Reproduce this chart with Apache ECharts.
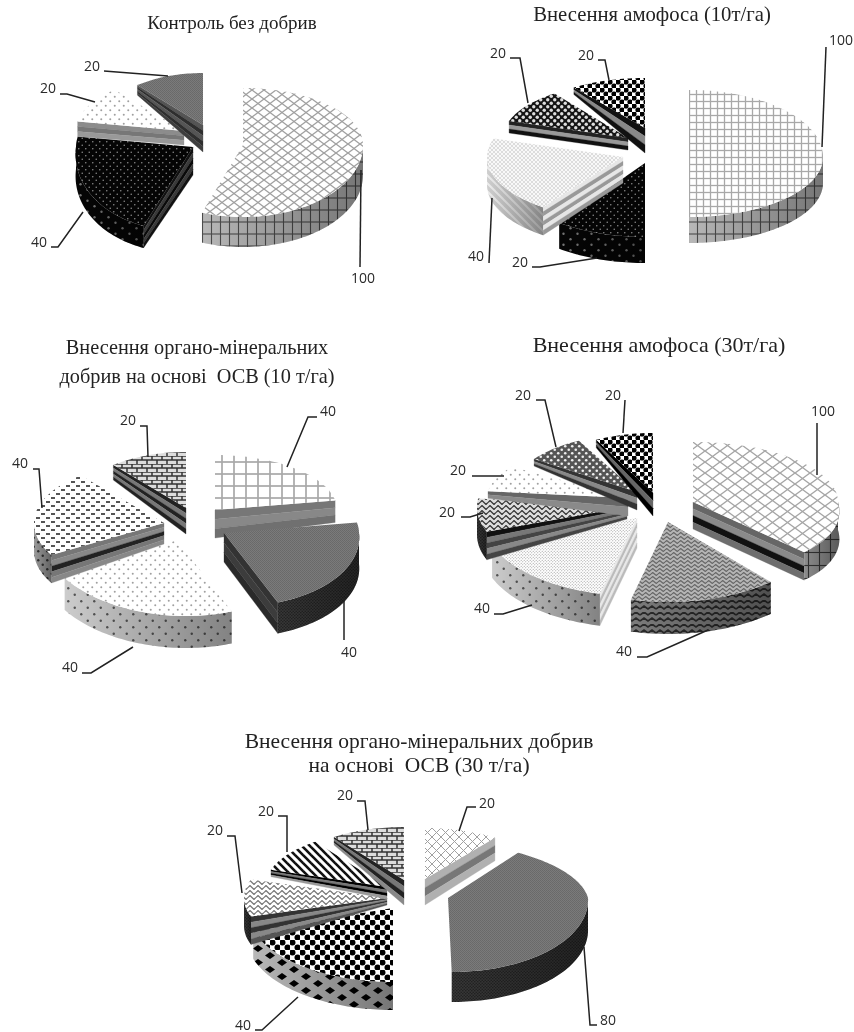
<!DOCTYPE html>
<html><head><meta charset="utf-8">
<style>html,body{margin:0;padding:0;background:#fff}#c{width:854px;height:1032px;filter:blur(0.4px)}</style>
<script src="https://cdn.jsdelivr.net/npm/echarts@6/dist/echarts.min.js"></script>
</head><body><div id="c"></div>
<script>
// ---- values
const controlValues   = [100, 40, 20, 20];
const ammo10Values    = [100, 20, 40, 20, 20];
const organo10Values  = [40, 40, 40, 40, 20];
const ammo30Values    = [100, 40, 40, 20, 20, 20, 20];
const organo30Values  = [20, 80, 40, 20, 20, 20];
const panelValues = [controlValues, ammo10Values, organo10Values, ammo30Values, organo30Values];
const panelTitles = [
  'Контроль без добрив',
  'Внесення амофоса (10т/га)',
  'Внесення органо-мінеральних\nдобрив на основі  ОСВ (10 т/га)',
  'Внесення амофоса (30т/га)',
  'Внесення органо-мінеральних добрив\nна основі  ОСВ (30 т/га)'
];

// ---- layout (no data): pie centre, explode offset per slice, ellipse and thickness per slice
const titleLayout = [[227,9,19,20],[647,1,20.7,20],[192,329.5,20.3,29],[654,329,22,24],[414,725,21.5,24]];
const centers = [[215,140],[650,145],[195,515],[650,505],[410,890]];
const explode = [
  [[28,5],[-22,7],[-31,-9],[-12,-15]],
  [[39,12],[-5,18],[-27,12],[-22,-7],[-5,-17]],
  [[20,-5],[29,18],[-18,25],[-31,8],[-9,-7]],
  [[43,-3],[18,17],[-13,13],[-23,2],[-22,-7],[-13,-13],[3,-12]],
  [[15,-11],[38,8],[-17,18],[-23,8],[-23,-3],[-6,-10]]
];
// [rx, ryBack, ryFront, depthAtApex, depthAtRim, skewFront, skewBack]
const ellipse = [
  [[120,57,72,28,30],[117,60,84,28,22,-0.12],[108,54,54,14,15],[102,52,52,27,10]],
  [[134,67,60,26,26],[146,70,74,26,26],[136,60,62,26,28],[125,55,55,12,12],[121,50,50,25,7]],
  [[122,55,55,28,22],[135,60,74,29,31,0.11],[135,70,76,30,32,0.12],[130,62,64,21,28],[113,56,56,26,15]],
  [[145,60,67,27,28,0.3],[155,70,80,30,32],[155,70,78,30,32],[150,70,70,12,28],[141,55,55,18,7],[125,58,58,18,7],[122,60,60,23,8]],
  [[119,51,51,26,23],[140,56,74,30,30,0.05,0.27],[147,65,74,31,28],[143,60,60,7,28],[122,56,56,12,7],[119,53,53,25,8]]
];
// label centre, then leader line
const labelLayout = [
  [[[363,279],[[360,267],[361,170]]],[[39,243],[[51,247],[58,247],[83,212]]],[[48,89],[[60,94],[67,94],[95,102]]],[[92,67],[[104,71],[168,76]]]],
  [[[841,41],[[826,47],[822,147]]],[[520,263],[[532,267],[540,267],[597,258]]],[[476,257],[[489,263],[492,198]]],[[498,54],[[510,58],[520,58],[528,103]]],[[586,56],[[598,60],[605,60],[609,80]]]],
  [[[328,412],[[317,417],[308,417],[287,467]]],[[349,653],[[344,640],[344,597]]],[[70,668],[[82,673],[91,673],[133,647]]],[[20,464],[[33,469],[39,469],[42,508]]],[[128,421],[[140,426],[147,426],[148,457]]]],
  [[[823,412],[[817,423],[817,475]]],[[624,652],[[637,657],[647,657],[708,630]]],[[482,609],[[494,614],[503,614],[532,605]]],[[447,513],[[461,517],[470,517],[483,513]]],[[458,471],[[472,476],[504,476]]],[[523,396],[[536,400],[545,400],[556,447]]],[[613,396],[[625,400],[623,433]]]],
  [[[487,804],[[476,807],[467,807],[459,831]]],[[608,1021],[[597,1025],[590,1025],[584,947]]],[[243,1026],[[255,1030],[262,1030],[298,997]]],[[215,831],[[227,836],[235,836],[242,893]]],[[266,812],[[278,816],[287,816],[287,852]]],[[345,796],[[357,801],[365,801],[368,830]]]]
];

// ---- pattern tiles
function tile(w,h,bg,draw){
  const c=document.createElement('canvas');c.width=w;c.height=h;
  const g=c.getContext('2d');g.fillStyle=bg;g.fillRect(0,0,w,h);draw(g,w,h);
  return {image:c,repeat:'repeat'};
}
function dots(g,pts,r,col){g.fillStyle=col;pts.forEach(p=>{g.beginPath();g.arc(p[0],p[1],r,0,7);g.fill();});}
function lines(g,segs,lw,col){g.strokeStyle=col;g.lineWidth=lw;segs.forEach(s=>{g.beginPath();g.moveTo(s[0],s[1]);for(let i=2;i<s.length;i+=2)g.lineTo(s[i],s[i+1]);g.stroke();});}
const grid=(w,h,bg,col,lw)=>tile(w,h,bg,g=>lines(g,[[0,h/4,w,h/4],[0,3*h/4,w,3*h/4],[w/2,0,w/2,h]],lw,col));
const grid2=(w,h,bg,col,lw)=>tile(w,h,bg,g=>lines(g,[[0,h/2,w,h/2],[w/2,0,w/2,h]],lw,col));
const lattice=(w,h,bg,col,lw)=>tile(w,h,bg,g=>lines(g,[[0,0,w,h],[w,0,0,h]],lw,col));
const stag=(w,h,bg,col,r)=>tile(w,h,bg,g=>dots(g,[[w/4,h/4],[3*w/4,3*h/4]],r,col));
const wave=(w,h,bg,col,lw)=>tile(w,h,bg,g=>lines(g,[[0,h/2,w/4,0.5,w/2,h/2,3*w/4,h-0.5,w,h/2]],lw,col));
function diamond(g,x,y,rx,ry){g.beginPath();g.moveTo(x-rx,y);g.lineTo(x,y-ry);g.lineTo(x+rx,y);g.lineTo(x,y+ry);g.closePath();g.fill();}
const P={
  latticeL:lattice(12,9,'#ffffff','#9f9f9f',1.3),
  latticeB:lattice(15,11,'#ffffff','#a5a5a5',1.4),
  gridRim:grid(9,24,'#b8b8b8','#4c4c4c',1.1),
  gridRimD:grid(11,26,'#8c8c8c','#333333',1.1),
  gridF:grid2(7,7,'#ffffff','#a8a8a8',1.3),
  gridB:grid2(12,12,'#ffffff','#a8a8a8',1.7),
  gridT:lattice(9,9,'#ffffff','#a0a0a0',1),
  sparse:stag(9,9,'#ffffff','#a0a0a0',1),
  sparseRim:stag(13,13,'#cccccc','#555555',1.2),
  fineG:stag(2,2,'#7c7c7c','#6a6a6a',.6),
  fineD:stag(3,3,'#383838','#222222',.8),
  blackDot:stag(7,7,'#050505','#888888',.8),
  blackRim:stag(14,11,'#050505','#777777',1.2),
  check:stag(8,8,'#ffffff','#000000',2.6),
  checkB:stag(10,10,'#ffffff','#000000',3),
  checkRim:tile(24,14,'#b8b8b8',g=>{g.fillStyle='#000';diamond(g,6,3.5,5,3.5);diamond(g,18,10.5,5,3.5);}),
  darkCheck:stag(7,7,'#141414','#dddddd',1.7),
  ovals:tile(10,8,'#ffffff',g=>{g.fillStyle='#555';g.fillRect(1,1,4,2);g.fillRect(6,5,4,2);}),
  ovalsRim:stag(9,9,'#9a9a9a','#333333',1.2),
  bricks:tile(10,8,'#dddddd',g=>lines(g,[[0,0,10,0],[0,4,10,4],[2,0,2,4],[7,4,7,8]],1.5,'#333333')),
  waveD:wave(8,5,'#dddddd','#333333',1.2),
  waveL:wave(8,5,'#ffffff','#777777',1.2),
  stripes:tile(8,8,'#ffffff',g=>lines(g,[[-2,6,2,10],[-2,-2,10,10],[6,-2,10,2]],2.6,'#111111')),
  weave:lattice(4,4,'#dcdcdc','#ffffff',.8),
  weaveRim:tile(8,8,'#cfcfcf',g=>lines(g,[[-2,6,2,10],[-2,-2,10,10],[6,-2,10,2]],2,'#eeeeee')),
  finest:stag(3,3,'#ffffff','#999999',.6),
  zigL:wave(7,4,'#b5b5b5','#666666',1.1),
  zigD:tile(16,12,'#7c7c7c',g=>lines(g,[[0,3,4,0,8,3,12,0,16,3],[0,9,4,6,8,9,12,6,16,9]],1.6,'#2a2a2a')),
  darkLat:stag(7,7,'#555555','#eeeeee',1.3)
};
// [top pattern, rim pattern, strips of the straight side faces]
const sliceLook = [
  [['latticeL','gridRim',['#a8a8a8','#5c5c5c','#a8a8a8']],['blackDot','blackRim',['#111','#3a3a3a','#0a0a0a','#3a3a3a','#111']],['sparse','sparseRim',['#8c8c8c','#777','#999']],['fineG','fineD',['#555','#2e2e2e','#555','#2e2e2e','#3e3e3e']]],
  [['gridF','gridRim',['#999','#555','#999']],['blackDot','blackRim',['#111','#333','#111']],['weave','weaveRim',['#e6e6e6','#999','#e6e6e6','#999','#e6e6e6','#999']],['darkCheck','fineD',['#222','#999','#111']],['check','fineD',['#111','#888','#111']]],
  [['gridB','gridRim',['#777','#888','#707070']],['fineG','fineD',['#333','#3c3c3c','#2a2a2a']],['sparse','sparseRim',['#bbb','#999']],['ovals','ovalsRim',['#777','#888','#222','#777','#888']],['bricks','fineD',['#222','#777','#222','#777','#222']]],
  [['latticeB','gridRimD',['#666','#8a8a8a','#111','#6e6e6e']],['zigL','zigD',['#555','#777']],['finest','sparseRim',['#e8e8e8','#bbb','#e8e8e8','#bbb','#e8e8e8','#bbb']],['waveD','fineD',['#111','#777','#444','#888','#444']],['sparse','sparseRim',['#666','#8a8a8a']],['darkLat','fineD',['#333','#888','#333']],['check','fineD',['#000','#666','#000']]],
  [['gridT','gridRim',['#b0b0b0','#777','#b0b0b0']],['fineG','fineD',['#333','#3c3c3c']],['checkB','checkRim',['#aaa','#888']],['waveL','fineD',['#333','#888','#333','#888','#555']],['stripes','fineD',['#000','#777','#000','#999']],['bricks','fineD',['#222','#777','#222','#888']]]
];

const rad=d=>d*Math.PI/180;
function pt(ax,ay,e,deg,down){
  const c=Math.cos(rad(deg)),s=Math.sin(rad(deg));
  const dy=-c*(c>0?e[1]:e[2]);
  const skew=(dy>0?e[5]:e[6])||0;
  return [ax+e[0]*s+skew*dy, ay+dy+(down||0)];
}
function radialFace(out,ax,ay,e,deg,look){
  const rim=pt(ax,ay,e,deg),n=look.length;
  look.forEach((col,i)=>{
    const f0=i/n,f1=(i+1)/n;
    out.push({type:'polygon',shape:{points:[
      [ax,ay+e[3]*f0],[rim[0],rim[1]+e[4]*f0],[rim[0],rim[1]+e[4]*f1],[ax,ay+e[3]*f1]
    ]},style:{fill:col,stroke:col,lineWidth:.3}});
  });
}
function renderPanel(p){
  return function(params,api){
    const vals=panelValues[p],i=params.dataIndex,total=vals.reduce((a,b)=>a+b,0);
    let sum=0;for(let k=0;k<i;k++)sum+=vals[k];
    const v=api.value(0),a0=sum/total*360,a1=(sum+v)/total*360;
    const ax=centers[p][0]+explode[p][i][0],ay=centers[p][1]+explode[p][i][1],e=ellipse[p][i];
    const look=sliceLook[p][i],ch=[];
    // straight side faces that look towards the viewer
    if(Math.sin(rad(a1))>1e-6) radialFace(ch,ax,ay,e,a1,look[2]);
    if(Math.sin(rad(a0))<-1e-6) radialFace(ch,ax,ay,e,a0,look[2]);
    // outer rim
    const r0=Math.max(a0,90),r1=Math.min(a1,270);
    if(r1>r0){
      const t=[],b=[];
      for(let d=r0;d<r1;d+=1.5){t.push(pt(ax,ay,e,d));b.push(pt(ax,ay,e,d,e[4]));}
      t.push(pt(ax,ay,e,r1));b.push(pt(ax,ay,e,r1,e[4]));
      const pts=t.concat(b.reverse());
      ch.push({type:'polygon',shape:{points:pts},style:{fill:P[look[1]]}});
      ch.push({type:'polygon',shape:{points:pts},style:{fill:{type:'linear',x:0,y:0,x2:1,y2:0,colorStops:[
        {offset:0,color:'rgba(0,0,0,0)'},{offset:1,color:'rgba(0,0,0,0.36)'}]}}});
    }
    // top face
    const top=[[ax,ay]];
    for(let d=a0;d<a1;d+=1.5)top.push(pt(ax,ay,e,d));
    top.push(pt(ax,ay,e,a1));
    ch.push({type:'polygon',shape:{points:top},style:{fill:P[look[0]]}});
    // leader and label
    const L=labelLayout[p][i];
    ch.push({type:'polyline',shape:{points:L[1]},style:{fill:'none',stroke:'#222',lineWidth:1.5}});
    ch.push({type:'text',style:{text:String(v),x:L[0][0],y:L[0][1],align:'center',verticalAlign:'middle',
      font:'14px "Open Sans"',fill:'#2a2a2a'}});
    return {type:'group',children:ch};
  };
}
const chart=echarts.init(document.getElementById('c'),null,{renderer:'canvas',width:854,height:1032});
chart.setOption({
  backgroundColor:'#fff',animation:false,
  title:panelTitles.map((t,i)=>({text:t,left:titleLayout[i][0],top:titleLayout[i][1],textAlign:'center',
    textStyle:{fontFamily:'"Liberation Serif"',fontWeight:'normal',fontSize:titleLayout[i][2],lineHeight:titleLayout[i][3],color:'#222'}})),
  series:panelValues.map((vals,p)=>({type:'custom',coordinateSystem:'none',silent:true,
    data:vals.map(v=>[v]),renderItem:renderPanel(p)}))
});
</script></body></html>
